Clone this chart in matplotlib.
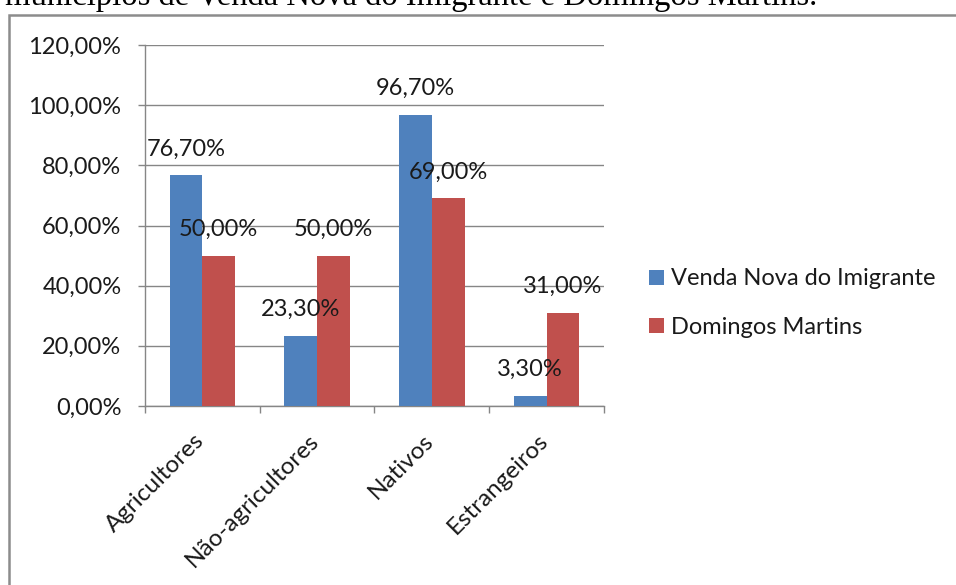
import numpy as np
import matplotlib
matplotlib.use("Agg")
import matplotlib.pyplot as plt
from matplotlib.patches import Rectangle
from matplotlib.ticker import FixedLocator, FuncFormatter
from matplotlib.transforms import ScaledTranslation

categories = ["Agricultores", "Não-agricultores", "Nativos", "Estrangeiros"]
venda_nova = [76.7, 23.3, 96.7, 3.3]
domingos = [50.0, 50.0, 69.0, 31.0]
series_names = ["Venda Nova do Imigrante", "Domingos Martins"]
y_ticks = [0, 20, 40, 60, 80, 100, 120]
caption = "municípios de Venda Nova do Imigrante e Domingos Martins."

blue = "#4F81BD"
red = "#C0504D"
grid_col = "#868686"
txt_col = "#1a1a1a"
W, H = 956, 585

plt.rcParams['font.family'] = ['Lato', 'DejaVu Sans']
fs = 17

fig = plt.figure(figsize=(W / 100, H / 100), dpi=100)
ax = fig.add_axes([145 / W, 1 - 406 / H, (604 - 145) / W, (406 - 45) / H])

x = np.arange(len(categories))
bw = 0.285
b1 = ax.bar(x - bw / 2, venda_nova, bw, color=blue, label=series_names[0], zorder=3)
b2 = ax.bar(x + bw / 2, domingos, bw, color=red, label=series_names[1], zorder=3)


def pct(v):
    return f"{v:.2f}%".replace(".", ",")


for bars, vals in ((b1, venda_nova), (b2, domingos)):
    for rect, v in zip(bars, vals):
        ax.annotate(pct(v), (rect.get_x() + rect.get_width() / 2, v),
                    xytext=(0, 19), textcoords="offset points",
                    ha="center", va="center", fontsize=fs, color=txt_col, zorder=5)

ax.set_xlim(-0.5, len(categories) - 0.5)
ax.set_ylim(0, 120)
ax.yaxis.set_major_locator(FixedLocator(y_ticks))
ax.yaxis.set_major_formatter(FuncFormatter(lambda v, p: pct(v)))
ax.grid(axis="y", color=grid_col, linewidth=1, zorder=0)
ax.set_axisbelow(True)

for s in ("top", "right"):
    ax.spines[s].set_visible(False)
for s in ("left", "bottom"):
    ax.spines[s].set_color(grid_col)
    ax.spines[s].set_linewidth(1)

ax.tick_params(axis="y", length=5, color=grid_col, width=1, labelsize=fs,
               labelcolor=txt_col, pad=12)
ax.set_xticks(x)
ax.set_xticklabels(categories, rotation=45, ha="right", va="top",
                   rotation_mode="anchor", fontsize=17.5, color=txt_col)
ax.tick_params(axis="x", which="major", length=0, pad=10)
ax.set_xticks(np.arange(-0.5, len(categories)), minor=True)
ax.tick_params(axis="x", which="minor", length=5, color=grid_col, width=1)

# nudge rotated labels so their ends sit at the category centres
shift = ScaledTranslation(-9 / 100, -10 / 100, fig.dpi_scale_trans)
for lab in ax.get_xticklabels():
    lab.set_transform(lab.get_transform() + shift)

ax.legend(loc="center left", bbox_to_anchor=(640 / W, 1 - 303 / H),
          bbox_transform=fig.transFigure, frameon=False, fontsize=fs,
          handlelength=0.6, handleheight=0.6, handletextpad=0.3,
          labelspacing=1.15, borderaxespad=0, labelcolor=txt_col)

# outer chart frame, runs off the right and bottom of the picture
fig.patches.append(Rectangle((9 / W, -0.05), 1.1, 1 - 15 / H + 0.05,
                             transform=fig.transFigure, fill=False,
                             edgecolor="#8c8c8c", linewidth=1.8))

# page text above the chart, clipped at the top
fig.text(5 / W, 1 - 5 / H, caption, family="Liberation Serif", fontsize=23.5,
         ha="left", va="baseline", color="black")

fig.savefig("out.png", dpi=100)
